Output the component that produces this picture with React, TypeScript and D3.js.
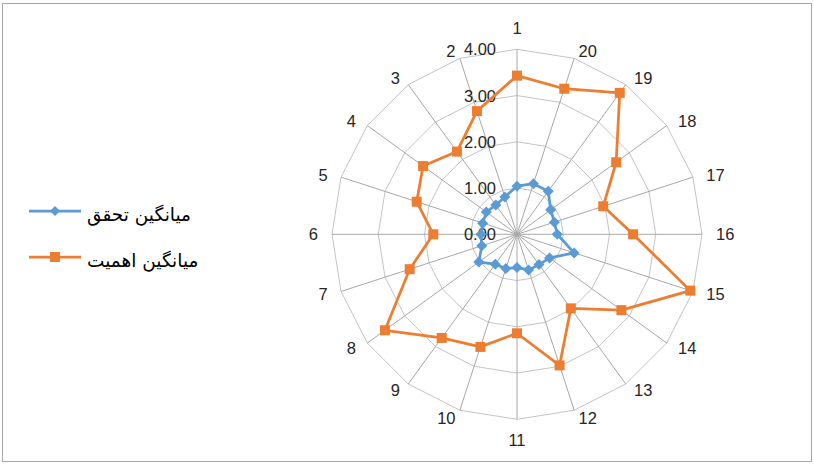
import React from 'react';
import * as d3 from 'd3';

const categories = ['1','2','3','4','5','6','7','8','9','10','11','12','13','14','15','16','17','18','19','20'];
const realization = [1.04, 0.85, 0.78, 0.82, 0.78, 0.78, 0.80, 1.02, 0.80, 0.78, 0.72, 0.81, 0.81, 0.87, 1.30, 0.87, 0.85, 0.90, 1.15, 1.15];
const importance = [3.43, 2.80, 2.21, 2.51, 2.28, 1.81, 2.44, 3.53, 2.77, 2.56, 2.14, 2.98, 1.98, 2.79, 3.94, 2.51, 1.96, 2.65, 3.78, 3.31];
const ticks = [0, 1, 2, 3, 4];
const seriesNames = ['میانگین تحقق', 'میانگین اهمیت'];

const W = 814, H = 464;
const cx = 517, cy = 234.3, R = 185;
const BLUE = '#5B9BD5', ORANGE = '#ED7D31', GRID = '#c4c4c4', SPOKE = '#a8a8a8';

export default function App() {
  const r = d3.scaleLinear().domain([0, 4]).range([0, R]);
  const n = categories.length;
  const ang = d3.scaleLinear().domain([0, n]).range([0, -2 * Math.PI]);
  const fmt = d3.format('.2f');

  const radial = d3.lineRadial<number>()
    .angle((_, i) => ang(i))
    .radius(v => r(v))
    .curve(d3.curveLinearClosed);

  const pt = (i: number, v: number) => {
    const a = ang(i);
    return [cx + r(v) * Math.sin(a), cy - r(v) * Math.cos(a)];
  };

  const gridPoly = (lvl: number) => radial(categories.map(() => lvl)) || '';

  const labelFont = '"Liberation Sans", Arial, sans-serif';

  return (
    <svg width={W} height={H} style={{ position: 'absolute', left: 0, top: 0, background: '#fff' }}>
      <rect x={2.5} y={3.5} width={809} height={458} fill="#fff" stroke="#a6a6a6" strokeWidth={1} />
      <g transform={`translate(${cx},${cy})`}>
        {ticks.slice(1).map(t => (
          <path key={t} d={gridPoly(t)} fill="none" stroke={GRID} strokeWidth={1} />
        ))}
        {categories.map((c, i) => {
          const a = ang(i);
          return (
            <line key={c} x1={0} y1={0} x2={R * Math.sin(a)} y2={-R * Math.cos(a)} stroke={SPOKE} strokeWidth={1} />
          );
        })}
      </g>
      {categories.map((c, i) => {
        const a = ang(i);
        const s = Math.sin(a), co = Math.cos(a);
        const ox = cx + R * s, oy = cy - R * co;
        let x = ox, y = oy, anchor = 'middle';
        if (Math.abs(s) < 0.01) {
          y = oy - (co > 0 ? 21 : -21);
        } else {
          anchor = s > 0 ? 'start' : 'end';
          x = ox + 14 * s;
          y = oy - 8 * co;
        }
        return (
          <text key={c} x={x} y={y} textAnchor={anchor} dominantBaseline="central"
            fontFamily={labelFont} fontSize={16.5} fill="#262626">{c}</text>
        );
      })}
      {ticks.map(t => (
        <text key={t} x={cx - 21} y={cy - r(t)} textAnchor="end" dominantBaseline="central"
          fontFamily={labelFont} fontSize={16.5} fill="#262626">{fmt(t)}</text>
      ))}
      <g transform={`translate(${cx},${cy})`}>
        <path d={radial(realization) || ''} fill="none" stroke={BLUE} strokeWidth={2.75} strokeLinejoin="round" />
      </g>
      {realization.map((v, i) => {
        const [x, y] = pt(i, v);
        return <path key={'b' + i} d={`M${x},${y - 5.5}L${x + 5.5},${y}L${x},${y + 5.5}L${x - 5.5},${y}Z`} fill={BLUE} />;
      })}
      <g transform={`translate(${cx},${cy})`}>
        <path d={radial(importance) || ''} fill="none" stroke={ORANGE} strokeWidth={2.75} strokeLinejoin="round" />
      </g>
      {importance.map((v, i) => {
        const [x, y] = pt(i, v);
        return <rect key={'o' + i} x={x - 5} y={y - 5} width={10} height={10} fill={ORANGE} />;
      })}
      {/* legend */}
      <g>
        <line x1={29} x2={81} y1={211} y2={211} stroke={BLUE} strokeWidth={2.75} />
        <path d={`M55,${211 - 5}L60,211L55,${211 + 5}L50,211Z`} fill={BLUE} />
        <text x={87} y={214} dominantBaseline="central" fontFamily='"DejaVu Sans", sans-serif' fontSize={18.5} fill="#000">{seriesNames[0]}</text>
        <line x1={29} x2={81} y1={257} y2={257} stroke={ORANGE} strokeWidth={2.75} />
        <rect x={50} y={252} width={10} height={10} fill={ORANGE} />
        <text x={87} y={260} dominantBaseline="central" fontFamily='"DejaVu Sans", sans-serif' fontSize={18.5} fill="#000">{seriesNames[1]}</text>
      </g>
    </svg>
  );
}
